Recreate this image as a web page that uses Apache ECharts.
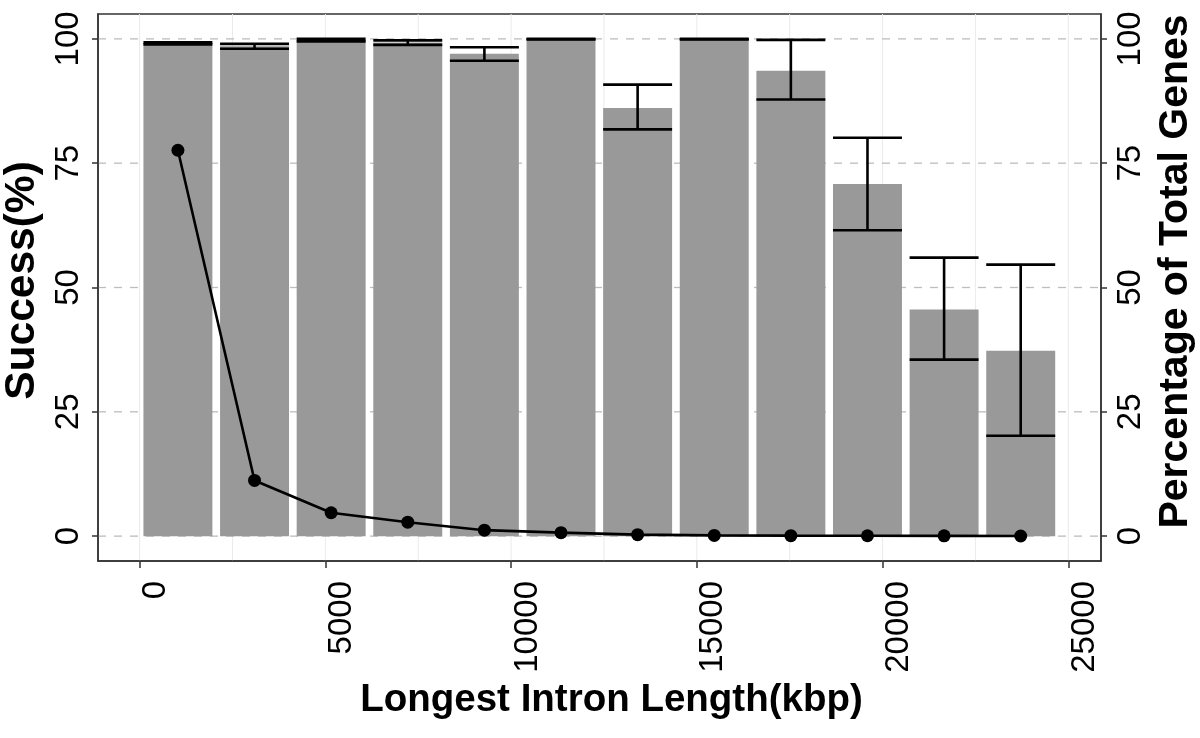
<!DOCTYPE html>
<html>
<head>
<meta charset="utf-8">
<script src="https://cdn.jsdelivr.net/npm/echarts@6/dist/echarts.min.js"></script>
<style>html,body{margin:0;padding:0;background:#fff}#c{width:1200px;height:738px}</style>
</head>
<body>
<div id="c"></div>
<script>
// ---- data ----
const binCenters = [1031.25, 3093.75, 5156.25, 7218.75, 9281.25, 11343.75, 13406.25, 15468.75, 17531.25, 19593.75, 21656.25, 23718.75];
const binWidth = 2062.5;
const successPct = [99.1, 98.5, 99.75, 99.25, 97.0, 100, 86.1, 100, 93.6, 70.8, 45.6, 37.3];
const errLow     = [98.9, 98.0, 99.5, 98.8, 95.6, 99.9, 81.8, 99.9, 87.8, 61.5, 35.5, 20.2];
const errHigh    = [99.3, 99.0, 100, 99.7, 98.3, 100, 90.8, 100, 99.8, 80.1, 56.0, 54.6];
const pctGenes   = [77.6, 11.2, 4.7, 2.8, 1.2, 0.7, 0.3, 0.15, 0.1, 0.08, 0.06, 0.03];
const xTicks = [0, 5000, 10000, 15000, 20000, 25000];
const xGrid = [0, 2500, 5000, 7500, 10000, 12500, 15000, 17500, 20000, 22500, 25000];
const yTicks = [0, 25, 50, 75, 100];

const X_MIN = -1120, X_MAX = 25880, Y_MIN = -5, Y_MAX = 105;
const FONT = '"Liberation Sans", Arial, Helvetica, sans-serif';

const chart = echarts.init(document.getElementById('c'), null, {renderer: 'canvas'});

const barData = binCenters.map((x, i) => [x, successPct[i]]);
const errData = binCenters.map((x, i) => [x, errLow[i], errHigh[i]]);
const lineData = binCenters.map((x, i) => [x, pctGenes[i]]);

const plain = v => String(v);
const tickLabelStyle = {fontFamily: FONT, fontSize: 33, color: '#000', formatter: plain};
const xTitleStyle = {fontFamily: FONT, fontSize: 38.5, fontWeight: 'bold', color: '#000', padding: [0, 0, 0, 24]};
const yTitleStyleL = {fontFamily: FONT, fontSize: 42.5, fontWeight: 'bold', color: '#000', padding: [0, 0, 0, 14]};
const yTitleStyleR = {fontFamily: FONT, fontSize: 41, fontWeight: 'bold', color: '#000', padding: [0, 0, 0, 32]};

chart.setOption({
  animation: false,
  grid: {left: 98, right: 99, top: 14, bottom: 177, show: true, borderColor: '#333', borderWidth: 1.5,
    containLabel: false, outerBoundsMode: 'none'},
  xAxis: {
    type: 'value', min: X_MIN, max: X_MAX,
    name: 'Longest Intron Length(kbp)', nameLocation: 'middle', nameGap: 116,
    nameTextStyle: xTitleStyle,
    axisLine: {show: true, onZero: false, lineStyle: {color: '#333', width: 1.5}},
    axisTick: {show: true, length: 7, lineStyle: {color: '#333', width: 1.5}, customValues: xTicks},
    axisLabel: Object.assign({rotate: 90, margin: 20, verticalAlign: 'top', customValues: xTicks}, tickLabelStyle),
    splitLine: {show: false}
  },
  yAxis: [{
    type: 'value', min: Y_MIN, max: Y_MAX, position: 'left',
    name: 'Success(%)', nameLocation: 'middle', nameGap: 50,
    nameTextStyle: yTitleStyleL,
    axisLine: {show: true, onZero: false, lineStyle: {color: '#333', width: 1.5}},
    axisTick: {show: true, length: 6, lineStyle: {color: '#333', width: 1.5}, customValues: yTicks},
    axisLabel: Object.assign({rotate: 90, margin: 13, customValues: yTicks}, tickLabelStyle),
    splitLine: {show: false}
  }, {
    type: 'value', min: Y_MIN, max: Y_MAX, position: 'right',
    name: 'Percentage of Total Genes', nameLocation: 'middle', nameGap: 52, nameRotate: 90,
    nameTextStyle: yTitleStyleR,
    axisLine: {show: true, onZero: false, lineStyle: {color: '#333', width: 1.5}},
    axisTick: {show: true, length: 6, lineStyle: {color: '#333', width: 1.5}, customValues: yTicks},
    axisLabel: Object.assign({rotate: 90, margin: 13, customValues: yTicks}, tickLabelStyle),
    splitLine: {show: false}
  }],
  series: [
    { // vertical light grid lines
      type: 'custom', z: 0, silent: true,
      data: xGrid.map(v => [v]),
      renderItem: (params, api) => {
        const p1 = api.coord([api.value(0), Y_MIN]);
        const p2 = api.coord([api.value(0), Y_MAX]);
        return {type: 'line', shape: {x1: p1[0], y1: p1[1], x2: p2[0], y2: p2[1]},
          style: {stroke: '#ebebeb', lineWidth: 1}};
      }
    },
    { // horizontal dashed grid lines
      type: 'custom', z: 0, silent: true,
      data: yTicks.map(v => [v]),
      renderItem: (params, api) => {
        const p1 = api.coord([X_MIN, api.value(0)]);
        const p2 = api.coord([X_MAX, api.value(0)]);
        return {type: 'line', shape: {x1: p1[0], y1: p1[1], x2: p2[0], y2: p2[1]},
          style: {stroke: '#bdbdbd', lineWidth: 1.3, lineDash: [8, 8]}};
      }
    },
    { // bars
      type: 'custom', z: 1, silent: true,
      data: barData,
      renderItem: (params, api) => {
        const x = api.value(0), y = api.value(1);
        const a = api.coord([x - binWidth * 0.45, y]);
        const b = api.coord([x + binWidth * 0.45, 0]);
        return {type: 'rect', shape: {x: a[0], y: a[1], width: b[0] - a[0], height: b[1] - a[1]},
          style: {fill: '#999999'}};
      }
    },
    { // error bars
      type: 'custom', z: 2, silent: true,
      data: errData,
      renderItem: (params, api) => {
        const x = api.value(0), lo = api.value(1), hi = api.value(2);
        const pl = api.coord([x, lo]), ph = api.coord([x, hi]);
        const l1 = api.coord([x - binWidth * 0.45, lo]), r1 = api.coord([x + binWidth * 0.45, lo]);
        const l2 = api.coord([x - binWidth * 0.45, hi]), r2 = api.coord([x + binWidth * 0.45, hi]);
        const st = {stroke: '#000', lineWidth: 2.6};
        return {type: 'group', children: [
          {type: 'line', shape: {x1: pl[0], y1: pl[1], x2: ph[0], y2: ph[1]}, style: st},
          {type: 'line', shape: {x1: l1[0], y1: l1[1], x2: r1[0], y2: r1[1]}, style: st},
          {type: 'line', shape: {x1: l2[0], y1: l2[1], x2: r2[0], y2: r2[1]}, style: st}
        ]};
      }
    },
    { // percentage of total genes
      type: 'line', yAxisIndex: 1, z: 3,
      data: lineData,
      symbol: 'circle', symbolSize: 13, showSymbol: true,
      lineStyle: {color: '#000', width: 2.6},
      itemStyle: {color: '#000'}
    }
  ]
});
</script>
</body>
</html>
